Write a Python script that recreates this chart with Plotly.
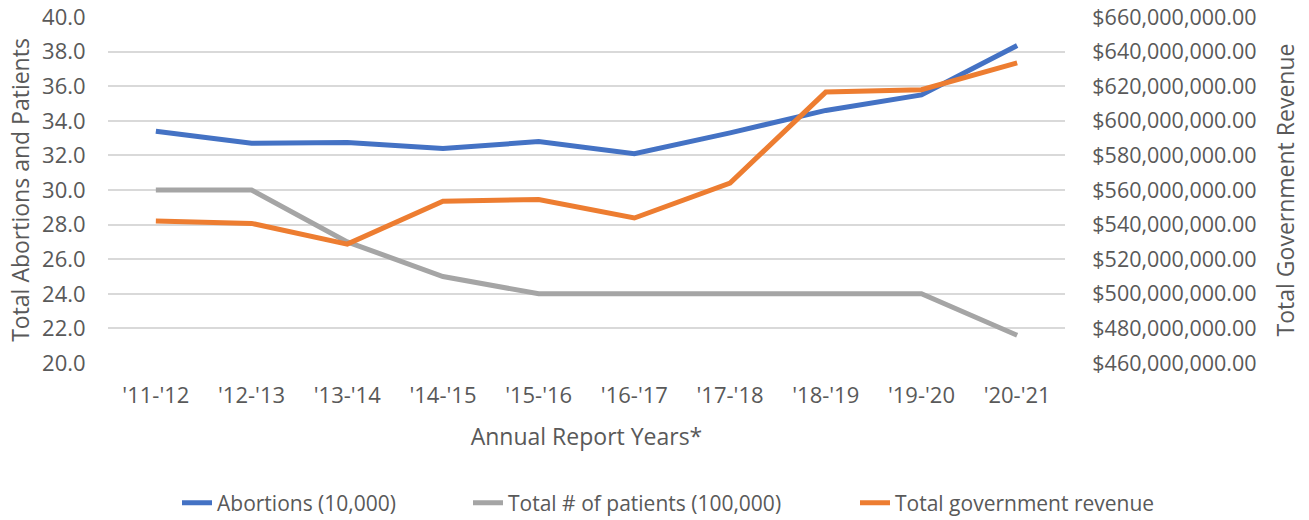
import plotly.graph_objects as go

years = ["'11-'12", "'12-'13", "'13-'14", "'14-'15", "'15-'16", "'16-'17", "'17-'18", "'18-'19", "'19-'20", "'20-'21"]
abortions = [33.4, 32.7, 32.75, 32.4, 32.8, 32.1, 33.3, 34.6, 35.5, 38.35]
patients = [30.0, 30.0, 27.0, 25.0, 24.0, 24.0, 24.0, 24.0, 24.0, 21.6]
revenue = [542.1e6, 540.7e6, 528.7e6, 553.5e6, 554.5e6, 543.8e6, 564.0e6, 616.6e6, 618.0e6, 633.5e6]

left_ticks = [20 + 2 * i for i in range(11)]
right_ticks = [460e6 + 20e6 * i for i in range(11)]
right_labels = ["${:,.2f}".format(v) for v in right_ticks]

FONT = "Open Sans"
GREY = "#595959"
CLEAR = "rgba(0,0,0,0)"
L, R, T, B = 108, 244, 17, 157
W, H = 1309, 520
PW, PH = W - L - R, H - T - B


def px_x(p):
    return (p - L) / PW


def px_y(p):
    return (H - B - p) / PH


fig = go.Figure()
fig.add_trace(go.Scatter(x=years, y=abortions, name="Abortions (10,000)", mode="lines",
                         line=dict(color="#4472C4", width=5), legend="legend"))
fig.add_trace(go.Scatter(x=years, y=patients, name="Total # of patients (100,000)", mode="lines",
                         line=dict(color="#A5A5A5", width=5), legend="legend2"))
fig.add_trace(go.Scatter(x=years, y=revenue, name="Total government revenue", mode="lines",
                         line=dict(color="#ED7D31", width=5), yaxis="y2", legend="legend3"))

leg_common = dict(orientation="h", yanchor="middle", y=px_y(503), xanchor="left",
                  font=dict(family=FONT, size=21, color=GREY), bgcolor=CLEAR)

fig.update_layout(
    width=W, height=H,
    margin=dict(l=L, r=R, t=T, b=B, autoexpand=False),
    paper_bgcolor="white", plot_bgcolor="white",
    font=dict(family=FONT, size=21, color=GREY),
    xaxis=dict(type="category", showgrid=False, showline=False,
               ticks="outside", ticklen=13, tickcolor=CLEAR,
               range=[-0.5, 9.5],
               tickfont=dict(family=FONT, size=22, color=GREY),
               title=dict(text="Annual Report Years*", font=dict(size=23, color=GREY), standoff=20)),
    yaxis=dict(range=[20, 40], tickvals=left_ticks, tickformat=".1f",
               showgrid=True, gridcolor="#D9D9D9", gridwidth=1.5, zeroline=False, showline=False,
               ticks="outside", ticklen=17, tickcolor=CLEAR,
               tickfont=dict(family=FONT, size=22, color=GREY),
               title=dict(text="Total Abortions and Patients", font=dict(size=23, color=GREY), standoff=6)),
    yaxis2=dict(range=[460e6, 660e6], tickvals=right_ticks, ticktext=right_labels,
                overlaying="y", side="right", showgrid=False, zeroline=False, showline=False,
                ticks="outside", ticklen=22, tickcolor=CLEAR,
                tickfont=dict(family=FONT, size=21.5, color=GREY),
                title=dict(text="Total Government Revenue", font=dict(size=23, color=GREY), standoff=22)),
    legend=dict(x=px_x(177), **leg_common),
    legend2=dict(x=px_x(468), **leg_common),
    legend3=dict(x=px_x(855), **leg_common),
    showlegend=True,
)

fig.write_html("out.html", config={"displayModeBar": False},
               post_script="document.body.style.margin='0';")
